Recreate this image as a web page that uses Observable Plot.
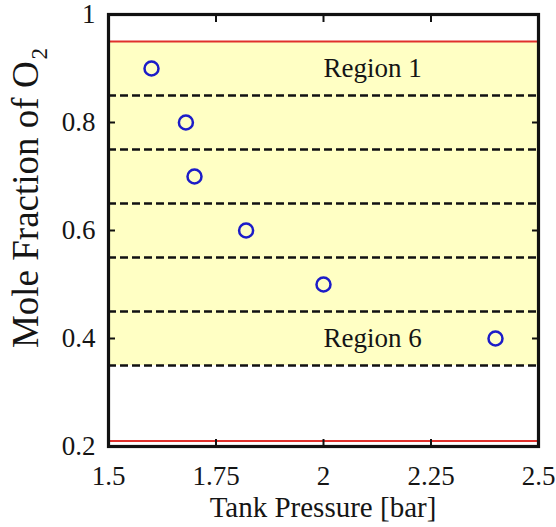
<!DOCTYPE html>
<html><head><meta charset="utf-8">
<script src="https://cdn.jsdelivr.net/npm/d3@7"></script>
<script src="https://cdn.jsdelivr.net/npm/@observablehq/plot@0.6"></script>
<style>body{margin:0;background:#fff}</style>
</head><body><div id="chart"></div>
<script>
// ---- data ----
const pressure = [1.6, 1.68, 1.7, 1.82, 2.0, 2.4];
const moleFraction = [0.9, 0.8, 0.7, 0.6, 0.5, 0.4];
const bandLow = 0.35, bandHigh = 0.95;
const redLimits = [0.21, 0.95];
const regionBounds = [0.35, 0.45, 0.55, 0.65, 0.75, 0.85];
const regionNames = ["Region 1", "Region 6"];
const regionX = [2.0, 2.0];
const regionY = [0.9, 0.4];
const xTicks = [1.5, 1.75, 2, 2.25, 2.5];
const yTicks = [0.2, 0.4, 0.6, 0.8, 1];
const xLabel = "Tank Pressure [bar]";
const yLabel = "Mole Fraction of O";
const yLabelSub = "2";

// ---- layout ----
const W = 556, H = 527, mT = 14, mB = 81, mL = 108, mR = 18;
const FONT = "'Liberation Serif', 'Times New Roman', serif";
const TK = 7; // inward tick length

const points = pressure.map((p, i) => ({p, f: moleFraction[i]}));
const regions = regionNames.map((t, i) => ({t, x: regionX[i], y: regionY[i]}));
const tickStyle = {tickSize: TK, strokeWidth: 2, stroke: "#111", tickFormat: () => "", label: null};

const svg = Plot.plot({
  width: W, height: H, marginTop: mT, marginBottom: mB, marginLeft: mL, marginRight: mR,
  style: {fontFamily: FONT, background: "white", color: "#151515"},
  x: {domain: [1.5, 2.5]},
  y: {domain: [0.2, 1]},
  marks: [
    Plot.rect([{y1: bandLow, y2: bandHigh}], {y1: "y1", y2: "y2", fill: "#ffffc4"}),
    Plot.ruleY(regionBounds, {stroke: "#111", strokeWidth: 2.5, strokeDasharray: "8,4"}),
    Plot.ruleY(redLimits, {stroke: "#e0302c", strokeWidth: 2}),
    Plot.dot(points, {x: "p", y: "f", r: 7, stroke: "#1c1cc8", strokeWidth: 2.5, fill: "none"}),
    Plot.text(regions, {x: "x", y: "y", text: "t", textAnchor: "start", fontSize: 27, fill: "#151515"}),
    Plot.axisX(xTicks, {anchor: "bottom", tickSize: 0, tickPadding: 19, fontSize: 27, tickFormat: d => String(d), label: null}),
    Plot.axisY(yTicks, {anchor: "left", tickSize: 0, tickPadding: 13, fontSize: 27, tickFormat: d => String(d), label: null}),
    Plot.axisX(xTicks, {anchor: "bottom", dy: -TK, ...tickStyle}),
    Plot.axisX(xTicks, {anchor: "top", dy: TK, ...tickStyle}),
    Plot.axisY(yTicks, {anchor: "left", dx: TK, ...tickStyle}),
    Plot.axisY(yTicks, {anchor: "right", dx: -TK, ...tickStyle}),
    Plot.frame({stroke: "#111", strokeWidth: 3.2})
  ]
});

const s = d3.select(svg);
s.append("text")
  .attr("x", mL + (W - mL - mR) / 2).attr("y", 517)
  .attr("text-anchor", "middle")
  .attr("font-family", FONT).attr("font-size", 29).attr("fill", "#151515")
  .text(xLabel);
const yl = s.append("text")
  .attr("transform", `translate(38,198) rotate(-90)`)
  .attr("text-anchor", "middle")
  .attr("font-family", FONT).attr("font-size", 37).attr("fill", "#151515");
yl.append("tspan").text(yLabel);
yl.append("tspan").attr("dy", 9).attr("dx", 2).attr("font-size", 23).text(yLabelSub);

document.getElementById("chart").appendChild(svg);
</script>
</body></html>
